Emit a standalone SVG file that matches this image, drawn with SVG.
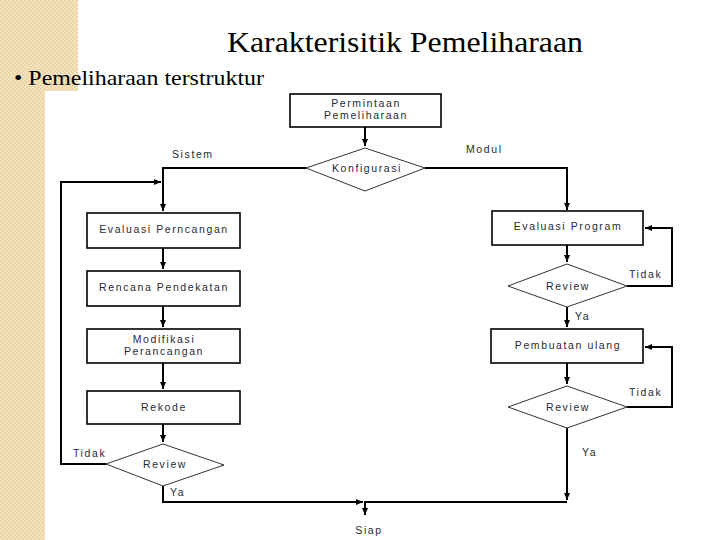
<svg xmlns="http://www.w3.org/2000/svg" width="720" height="540" viewBox="0 0 720 540">
<defs>
<pattern id="chk" width="4" height="4" patternUnits="userSpaceOnUse">
<rect width="4" height="4" fill="#f4e3bf"/>
<rect width="2" height="2" fill="#ead6a8"/>
<rect x="2" y="2" width="2" height="2" fill="#ead6a8"/>
</pattern>
<marker id="ah" markerWidth="8" markerHeight="8" refX="7" refY="4" orient="auto" markerUnits="userSpaceOnUse">
<path d="M0,1 L7,4 L0,7 Z" fill="#000"/>
</marker>
<style>
.box{fill:#fff;stroke:#000;stroke-width:1.6}
.dia{fill:#fff;stroke:#333;stroke-width:1}
.ln{fill:none;stroke:#000;stroke-width:2}
.t{font-family:"Liberation Sans",Arial,sans-serif;font-size:10.5px;letter-spacing:1.6px;fill:#252a35;text-anchor:middle}
.lb{font-family:"Liberation Sans",Arial,sans-serif;font-size:10.5px;letter-spacing:1.6px;fill:#252a35}
.serif{font-family:"Liberation Serif","Times New Roman",serif;fill:#000}
</style>
</defs>
<rect width="720" height="540" fill="#fff"/>
<rect x="0" y="0" width="78" height="91" fill="url(#chk)"/>
<rect x="0" y="0" width="45" height="540" fill="url(#chk)"/>
<text class="serif" x="227" y="52" font-size="30" textLength="356" lengthAdjust="spacingAndGlyphs">Karakterisitik Pemeliharaan</text>
<text class="serif" x="14" y="85" font-size="22" textLength="250" lengthAdjust="spacingAndGlyphs">• Pemeliharaan terstruktur</text>

<g id="connectors">
<path class="ln" d="M365,127 V146" marker-end="url(#ah)"/>
<path class="ln" d="M306,168 H163 V211" marker-end="url(#ah)"/>
<path class="ln" d="M425,168 H567 V210" marker-end="url(#ah)"/>
<path class="ln" d="M163,248 V269" marker-end="url(#ah)"/>
<path class="ln" d="M163,306 V327" marker-end="url(#ah)"/>
<path class="ln" d="M163,363 V389" marker-end="url(#ah)"/>
<path class="ln" d="M163,424 V442" marker-end="url(#ah)"/>
<path class="ln" d="M106,464 H61 V182 H161" marker-end="url(#ah)"/>
<path class="ln" d="M163,486 V502 H363" marker-end="url(#ah)"/>
<path class="ln" d="M567,245 V262" marker-end="url(#ah)"/>
<path class="ln" d="M627,286 H672 V228 H645" marker-end="url(#ah)"/>
<path class="ln" d="M567,307 V327" marker-end="url(#ah)"/>
<path class="ln" d="M567,363 V384" marker-end="url(#ah)"/>
<path class="ln" d="M627,407 H672 V347 H645" marker-end="url(#ah)"/>
<path class="ln" d="M567,428 V500" marker-end="url(#ah)"/>
<path class="ln" d="M567,502 H365 V515" marker-end="url(#ah)"/>
</g>

<g id="n-permintaan">
<rect class="box" x="290" y="94" width="151" height="33"/>
<text class="t" x="366" y="107">Permintaan</text>
<text class="t" x="366" y="119">Pemeliharaan</text>
</g>
<g id="n-konfigurasi">
<polygon class="dia" points="365,148 425,168 365,191 306,168"/>
<text class="t" x="367" y="172">Konfigurasi</text>
</g>
<g id="l-sistem"><text class="lb" x="172" y="158">Sistem</text></g>
<g id="l-modul"><text class="lb" x="466" y="153">Modul</text></g>

<g id="n-evaluasi-perancangan">
<rect class="box" x="87" y="213" width="153" height="35"/>
<text class="t" x="164" y="233">Evaluasi Perncangan</text>
</g>
<g id="n-rencana">
<rect class="box" x="87" y="271" width="153" height="35"/>
<text class="t" x="164" y="291">Rencana Pendekatan</text>
</g>
<g id="n-modifikasi">
<rect class="box" x="87" y="329" width="153" height="34"/>
<text class="t" x="164" y="343">Modifikasi</text>
<text class="t" x="164" y="355">Perancangan</text>
</g>
<g id="n-rekode">
<rect class="box" x="87" y="391" width="153" height="33"/>
<text class="t" x="164" y="411">Rekode</text>
</g>
<g id="n-review-kiri">
<polygon class="dia" points="163,444 224,465 163,486 106,464"/>
<text class="t" x="165" y="468">Review</text>
</g>
<g id="l-tidak-kiri"><text class="lb" x="73" y="457">Tidak</text></g>
<g id="l-ya-kiri"><text class="lb" x="170" y="496">Ya</text></g>

<g id="n-evaluasi-program">
<rect class="box" x="492" y="211" width="151" height="34"/>
<text class="t" x="568" y="230">Evaluasi Program</text>
</g>
<g id="n-review-1">
<polygon class="dia" points="567,264 627,286 567,307 508,286"/>
<text class="t" x="568" y="290">Review</text>
</g>
<g id="l-tidak-1"><text class="lb" x="629" y="278">Tidak</text></g>
<g id="l-ya-1"><text class="lb" x="575" y="320">Ya</text></g>
<g id="n-pembuatan">
<rect class="box" x="491" y="329" width="152" height="34"/>
<text class="t" x="568" y="349">Pembuatan ulang</text>
</g>
<g id="n-review-2">
<polygon class="dia" points="567,386 627,407 567,428 508,407"/>
<text class="t" x="568" y="411">Review</text>
</g>
<g id="l-tidak-2"><text class="lb" x="629" y="396">Tidak</text></g>
<g id="l-ya-2"><text class="lb" x="582" y="456">Ya</text></g>
<g id="n-siap"><text class="t" x="369" y="534">Siap</text></g>
</svg>
